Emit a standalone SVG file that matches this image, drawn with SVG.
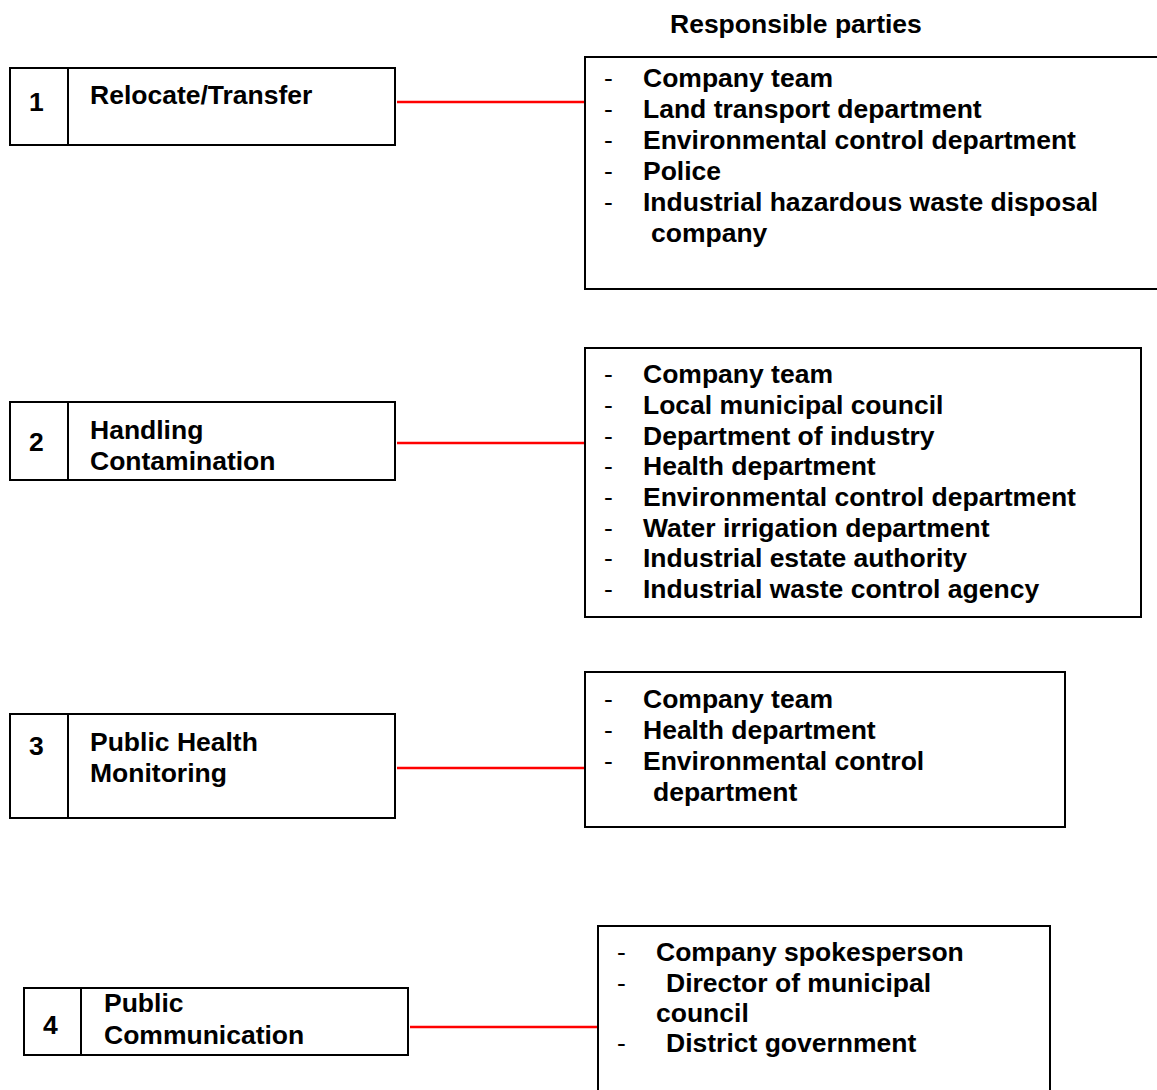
<svg xmlns="http://www.w3.org/2000/svg" width="1157" height="1090" viewBox="0 0 1157 1090">
<style>
text{font-family:"Liberation Sans",Arial,sans-serif;font-weight:bold;font-size:26.5px;fill:#000}
text.d{font-weight:normal}
.box{fill:#fff;stroke:#000;stroke-width:2}
.div{stroke:#000;stroke-width:2}
.con{stroke:#ff0000;stroke-width:2.5;fill:none}
</style>
<rect width="1157" height="1090" fill="#fff"/>
<text id="title" x="670" y="33">Responsible parties</text>
<g id="connectors">
<line class="con" x1="397" y1="102" x2="585" y2="102"/>
<line class="con" x1="397" y1="443" x2="585" y2="443"/>
<line class="con" x1="397" y1="768" x2="585" y2="768"/>
<line class="con" x1="410" y1="1027" x2="598" y2="1027"/>
</g>
<g id="step1">
<rect class="box" x="10" y="68" width="385" height="77"/>
<line class="div" x1="68" y1="68" x2="68" y2="145"/>
<text x="29" y="111">1</text>
<text x="90" y="104">Relocate/Transfer</text>
</g>
<g id="parties1">
<rect class="box" x="585" y="57" width="580" height="232"/>
<text class="d" x="604" y="87">-</text><text x="643" y="87">Company team</text>
<text class="d" x="604" y="118">-</text><text x="643" y="118">Land transport department</text>
<text class="d" x="604" y="149">-</text><text x="643" y="149">Environmental control department</text>
<text class="d" x="604" y="180">-</text><text x="643" y="180">Police</text>
<text class="d" x="604" y="211">-</text><text x="643" y="211">Industrial hazardous waste disposal</text>
<text x="651" y="242">company</text>
</g>
<g id="step2">
<rect class="box" x="10" y="402" width="385" height="78"/>
<line class="div" x1="68" y1="402" x2="68" y2="480"/>
<text x="29" y="451">2</text>
<text x="90" y="439">Handling</text>
<text x="90" y="470">Contamination</text>
</g>
<g id="parties2">
<rect class="box" x="585" y="348" width="556" height="269"/>
<text class="d" x="604" y="383">-</text><text x="643" y="383">Company team</text>
<text class="d" x="604" y="414">-</text><text x="643" y="414">Local municipal council</text>
<text class="d" x="604" y="445">-</text><text x="643" y="445">Department of industry</text>
<text class="d" x="604" y="475">-</text><text x="643" y="475">Health department</text>
<text class="d" x="604" y="506">-</text><text x="643" y="506">Environmental control department</text>
<text class="d" x="604" y="537">-</text><text x="643" y="537">Water irrigation department</text>
<text class="d" x="604" y="567">-</text><text x="643" y="567">Industrial estate authority</text>
<text class="d" x="604" y="598">-</text><text x="643" y="598">Industrial waste control agency</text>
</g>
<g id="step3">
<rect class="box" x="10" y="714" width="385" height="104"/>
<line class="div" x1="68" y1="714" x2="68" y2="818"/>
<text x="29" y="755">3</text>
<text x="90" y="751">Public Health</text>
<text x="90" y="782">Monitoring</text>
</g>
<g id="parties3">
<rect class="box" x="585" y="672" width="480" height="155"/>
<text class="d" x="604" y="708">-</text><text x="643" y="708">Company team</text>
<text class="d" x="604" y="739">-</text><text x="643" y="739">Health department</text>
<text class="d" x="604" y="770">-</text><text x="643" y="770">Environmental control</text>
<text x="653" y="801">department</text>
</g>
<g id="step4">
<rect class="box" x="24" y="988" width="384" height="67"/>
<line class="div" x1="81" y1="988" x2="81" y2="1055"/>
<text x="43" y="1034">4</text>
<text x="104" y="1012">Public</text>
<text x="104" y="1044">Communication</text>
</g>
<g id="parties4">
<rect class="box" x="598" y="926" width="452" height="170"/>
<text class="d" x="617" y="961">-</text><text x="656" y="961">Company spokesperson</text>
<text class="d" x="617" y="992">-</text><text x="666" y="992">Director of municipal</text>
<text x="656" y="1022">council</text>
<text class="d" x="617" y="1052">-</text><text x="666" y="1052">District government</text>
</g>
</svg>
